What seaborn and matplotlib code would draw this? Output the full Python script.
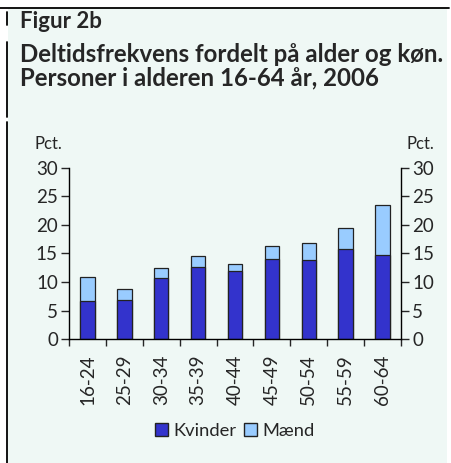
#Figur 2b - deltidsfrekvens fordelt paa alder og koen
import numpy as np
import pandas as pd
import matplotlib
matplotlib.use("Agg")
import matplotlib.pyplot as plt
from matplotlib.patches import Patch, Rectangle
from matplotlib.lines import Line2D
import seaborn as sns

#data
ages = ['16-24', '25-29', '30-34', '35-39', '40-44', '45-49', '50-54', '55-59', '60-64']
kvinder = [6.6, 6.9, 10.7, 12.7, 12.0, 14.0, 13.9, 15.8, 14.8]
maend = [4.3, 1.9, 1.7, 1.8, 1.2, 2.4, 3.0, 3.6, 8.7]
y_ticks = [0, 5, 10, 15, 20, 25, 30]

df = pd.DataFrame({'alder': ages, 'Kvinder': kvinder, 'Mænd': maend})
df['total'] = df['Kvinder'] + df['Mænd']

sns.set_style("white")
plt.rcParams['font.family'] = ['Lato', 'DejaVu Sans']

bg = '#eff8f5'
col_k = '#3333cc'
col_m = '#99ccff'

fig = plt.figure(figsize=(4.51, 4.63), dpi=100)
fig.patch.set_facecolor('white')
W, H = 451, 463

#frame: mint panel, top rule, broken left rule
fig.add_artist(Rectangle((8 / W, 0), 439 / W, 1 - 8 / H, transform=fig.transFigure,
                         facecolor=bg, edgecolor='none', zorder=0))
fig.add_artist(Line2D([0, 449 / W], [1 - 7.5 / H, 1 - 7.5 / H], transform=fig.transFigure,
                      color='black', lw=1.3))
for y0, y1 in [(12, 25), (42, 117), (122, 463)]:
    fig.add_artist(Line2D([7.5 / W, 7.5 / W], [1 - y0 / H, 1 - y1 / H], transform=fig.transFigure,
                          color='black', lw=1.3))

ax = fig.add_axes([69 / W, 1 - 339 / H, 332 / W, 171 / H])
ax.set_facecolor(bg)

sns.barplot(data=df, x='alder', y='total', color=col_m, width=0.39, edgecolor='#222222',
            linewidth=0.9, saturation=1, ax=ax)
sns.barplot(data=df, x='alder', y='Kvinder', color=col_k, width=0.39, edgecolor='#222222',
            linewidth=0.9, saturation=1, ax=ax)

ax.set_xlim(-0.5, len(ages) - 0.5)
ax.set_ylim(0, 30)
ax.set_yticks(y_ticks)
ax.set_xlabel('')
ax.set_ylabel('')
ax.tick_params(axis='y', direction='out', length=6, width=1, pad=2, labelsize=13.5, left=True)
ax.set_xticks(range(len(ages)))
ax.set_xticklabels(ages, rotation=90, fontsize=13.5)
ax.tick_params(axis='x', length=0, pad=11)
ax.set_xticks(np.arange(-0.5, len(ages)), minor=True)
ax.tick_params(axis='x', which='minor', direction='out', length=5, width=1, bottom=True)
for s in ['top', 'right']:
    ax.spines[s].set_visible(False)
for s in ['left', 'bottom']:
    ax.spines[s].set_color('black')
    ax.spines[s].set_linewidth(1)

ax2 = ax.twinx()
ax2.set_ylim(0, 30)
ax2.set_yticks(y_ticks)
ax2.tick_params(axis='y', direction='out', length=6, width=1, pad=2, labelsize=13.5, right=True)
for s in ['top', 'left', 'bottom']:
    ax2.spines[s].set_visible(False)
ax2.spines['right'].set_color('black')
ax2.spines['right'].set_linewidth(1)

#titles
fig.text(20 / W, 1 - 28 / H, 'Figur 2b', fontsize=16, fontweight='bold', va='baseline')
fig.text(20 / W, 1 - 62 / H, 'Deltidsfrekvens fordelt på alder og køn.', fontsize=17.3,
         fontweight='bold', va='baseline')
fig.text(20 / W, 1 - 85 / H, 'Personer i alderen 16-64 år, 2006', fontsize=17.3,
         fontweight='bold', va='baseline')
fig.text(35 / W, 1 - 149 / H, 'Pct.', fontsize=12, va='baseline')
fig.text(407 / W, 1 - 149 / H, 'Pct.', fontsize=12, va='baseline')

handles = [Patch(facecolor=col_k, edgecolor='#222222', label='Kvinder'),
           Patch(facecolor=col_m, edgecolor='#222222', label='Mænd')]
fig.legend(handles=handles, loc='center', bbox_to_anchor=(235 / W, 1 - 431 / H), ncol=2,
           frameon=False, fontsize=13.2, handlelength=0.7, handleheight=0.7,
           handletextpad=0.3, columnspacing=0.4, borderaxespad=0)

plt.savefig('out.png', dpi=100, facecolor=fig.get_facecolor())
plt.close()
